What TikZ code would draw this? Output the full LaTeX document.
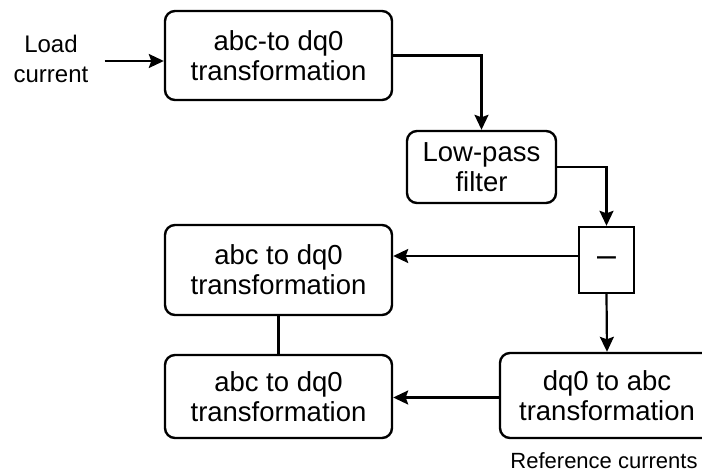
\documentclass[tikz,border=0pt]{standalone}
\usepackage{fontspec}
\setmainfont{Liberation Sans}
\usetikzlibrary{arrows.meta}
\begin{document}
\begin{tikzpicture}[x=1pt,y=-1pt,
  box/.style={draw,line width=2.4pt,rounded corners=10pt,align=center,
    font=\fontsize{27.5}{30}\selectfont,inner sep=0pt},
  lbl/.style={align=center,font=\fontsize{24}{30}\selectfont,inner sep=0pt},
  conn/.style={line width=2.2pt},
  arr/.style={conn,-{Stealth[length=15pt,width=14pt,inset=2.5pt]}}]
\clip (0,0) rectangle (702,474);
\fill[white] (0,0) rectangle (702,474);
\node[lbl] (load) at (51,59) {Load\\current};
\node[box,minimum width=227pt,minimum height=89pt] (b1) at (278.5,55.5) {abc-to dq0\\transformation};
\node[box,minimum width=149pt,minimum height=72pt] (lp) at (481.5,167) {Low-pass\\filter};
\node[draw,line width=2.4pt,minimum width=55pt,minimum height=66pt,inner sep=0pt] (minus) at (606.5,260) {};
\node[font=\fontsize{34}{34}\selectfont,inner sep=0pt] (minussign) at (606.5,262) {–};
\node[box,minimum width=227pt,minimum height=90pt] (b2) at (278.5,270) {abc to dq0\\transformation};
\node[box,minimum width=227pt,minimum height=83pt] (b3) at (278.5,396.5) {abc to dq0\\transformation};
\node[box,minimum width=214pt,minimum height=85pt] (dq) at (607,395.5) {dq0 to abc\\transformation};
\node[font=\fontsize{22}{26}\selectfont,inner sep=0pt] (ref) at (604,461) {Reference currents};
\coordinate (ls) at ([xshift=16pt,yshift=-2pt]load.east);
\draw[arr] (ls) -- (ls -| b1.west);
\draw[arr] (b1.east) -| (lp.north);
\draw[arr] (lp.east) -| (minus.north);
\draw[arr] ([yshift=4pt]minus.west) -- ([yshift=4pt]minus.west -| b2.east);
\draw[arr] (minus.south) -- (dq.north);
\draw[conn] (b2.south) -- (b3.north);
\draw[arr] ([yshift=-2pt]dq.west) -- ([yshift=-2pt]dq.west -| b3.east);
\end{tikzpicture}
\end{document}
